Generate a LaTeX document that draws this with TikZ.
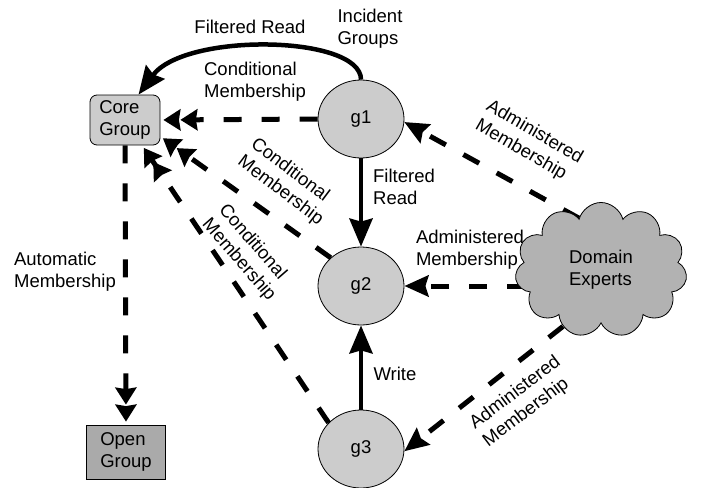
\documentclass[tikz,border=0pt]{standalone}
\usepackage{fontspec}
\setmainfont{Liberation Sans}
\usetikzlibrary{shapes.geometric,shapes.symbols,arrows.meta,backgrounds}
\definecolor{lightg}{RGB}{204,204,204}
\definecolor{openg}{RGB}{170,170,170}
\definecolor{cloudg}{RGB}{178,178,178}
\tikzset{
  every node/.style={font=\fontsize{18.5}{22}\selectfont},
  txt/.style={align=left, inner sep=0pt},
  grp/.style={ellipse, draw=black, line width=0.8pt, fill=lightg, minimum width=86pt, minimum height=78pt, inner sep=0pt},
  solidarr/.style={line width=4.5pt, -{Stealth[length=28pt,width=23pt,inset=3pt]}},
  dasharr/.style={line width=5pt, dash pattern=on 18pt off 20pt, -{Stealth[length=24pt,width=21pt,inset=3pt]}},
  dbldash/.style={line width=5pt, dash pattern=on 18pt off 20pt, shorten >=3pt, -{Stealth[length=17pt,width=21pt,inset=1.5pt]Stealth[length=17pt,width=21pt,inset=1.5pt]}},
}
\begin{document}
\begin{tikzpicture}[x=1pt,y=-1pt]
\useasboundingbox (0,0) rectangle (701,487);
\node[draw=black, line width=0.8pt, fill=lightg, rounded corners=7pt, minimum width=70pt, minimum height=50pt, txt] (core) at (125,120) {Core\\Group};
\node[draw=black, line width=0.8pt, fill=openg, minimum width=79pt, minimum height=54pt, txt] (open) at (126,452) {Open\\Group};
\node[grp] (g1) at (361,119) {g1};
\node[grp] (g2) at (361,286) {g2};
\node[grp] (g3) at (361,449) {g3};
\node[cloud, cloud puffs=11, aspect=1.3, draw=black, line width=0.8pt, fill=cloudg, minimum width=172pt, minimum height=135pt, inner sep=0pt, align=left] (de) at (601,270) {Domain\\Experts};
\coordinate (deleft) at (g2.east -| de.center);
\begin{pgfonlayer}{background}
\draw[solidarr] (g1.north) .. controls (361,35) and (185,32) .. (core.62);
\draw[solidarr] (g1.south) -- (g2.north);
\draw[solidarr] (g3.north) -- (g2.south);
\draw[dbldash] (g1.west) -- (core.east);
\draw[dbldash] (g2.137) -- (core.-25);
\draw[dbldash] (g3.141) -- (core.-56);
\draw[dbldash] (core.south) -- (open.north);
\draw[dasharr] (de.113) -- (g1.-4);
\draw[dasharr] (deleft) -- (g2.east);
\draw[dasharr] (de.-124) -- (g3.-3);
\end{pgfonlayer}
\node[txt] (lfr) at (250,27) {Filtered Read};
\node[txt] (lig) at (370,29) {Incident\\Groups};
\node[txt] (lcm1) at (255,82) {Conditional\\Membership};
\node[txt, rotate=-37] (lcm2) at (287,182) {Conditional\\Membership};
\node[txt, rotate=-49] (lcm3) at (247,253) {Conditional\\Membership};
\node[txt] (lam) at (65,272) {Automatic\\Membership};
\node[txt] (lfr2) at (404,187) {Filtered\\Read};
\node[txt, rotate=-30] (lad1) at (529,142) {Administered\\Membership};
\node[txt] (lad2) at (470,250) {Administered\\Membership};
\node[txt] (lw) at (395,374) {Write};
\node[txt, rotate=37] (lad3) at (522,402) {Administered\\Membership};
\end{tikzpicture}
\end{document}
